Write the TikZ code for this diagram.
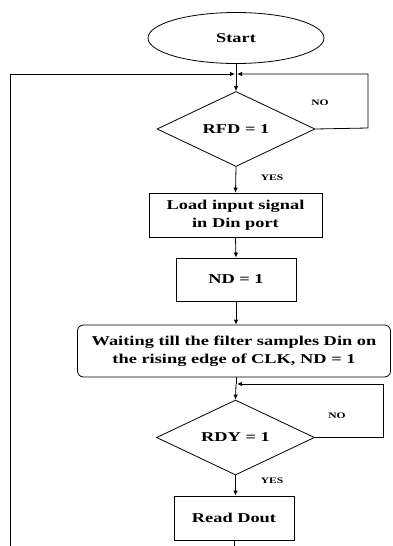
\documentclass[tikz,border=0pt]{standalone}
\usepackage{fontspec}
\setmainfont{Liberation Serif}[FakeStretch=1.36]
\usetikzlibrary{shapes.geometric,arrows.meta}
\begin{document}
\begin{tikzpicture}[x=1pt,y=-1pt,
  every node/.style={font=\bfseries\fontsize{13.5}{18}\selectfont},
  arr/.style={-{Latex[length=5pt,width=4.5pt]}},
  ln/.style={line width=0.8pt},
  boxstyle/.style={draw,ln,rectangle,inner sep=0pt,align=center},
  decision/.style={draw,ln,diamond,aspect=2.1,inner sep=0pt,minimum width=158pt,minimum height=75pt},
  lbl/.style={font=\bfseries\fontsize{8.5}{10}\selectfont}]
\useasboundingbox (0,0) rectangle (393,546);
\node[draw,ln,ellipse,minimum width=176pt,minimum height=51pt] (start) at (236,38) {Start};
\node[decision] (rfd) at (236,129) {RFD = 1};
\node[boxstyle,minimum width=173pt,minimum height=44pt] (load) at (235.5,215) {Load input signal\\in Din port};
\node[boxstyle,minimum width=120pt,minimum height=43pt] (nd) at (236,279.5) {ND = 1};
\node[boxstyle,rounded corners=6pt,minimum width=313pt,minimum height=52pt] (wait) at (234,351) {Waiting till the filter samples Din on\\the rising edge of CLK, ND = 1};
\node[decision] (rdy) at (235.5,437.5) {RDY = 1};
\node[boxstyle,minimum width=120pt,minimum height=44pt] (dout) at (234,518) {Read Dout};
\coordinate (j1) at (236,74);
\coordinate (j2) at (236,384);
\coordinate (r1) at (368,74);
\coordinate (r1b) at (368,128);
\coordinate (r2) at (383,384);
\coordinate (l1) at (10,74);
\coordinate (lb) at (10,546);
\coordinate (db) at (234,546);
\draw[ln] (start.south) -- (j1);
\draw[ln,arr] (j1) -- (rfd.north);
\draw[ln,arr] (lb) -- (l1) -- ([xshift=-1pt]j1);
\draw[ln,arr] (rfd.east) -- (r1b) -- (r1) -- ([xshift=1pt]j1);
\draw[ln,arr] (rfd.south) -- (load.north);
\draw[ln,arr] (load.south) -- (nd.north);
\draw[ln,arr] (nd.south) -- (nd.south |- wait.north);
\draw[ln] (wait.south -| j2) -- (j2);
\draw[ln,arr] (j2) -- (rdy.north);
\draw[ln,arr] (rdy.east) -- (rdy.east -| r2) -- (r2) -- ([xshift=1pt]j2);
\draw[ln,arr] (rdy.south) -- (rdy.south |- dout.north);
\draw[ln] (dout.south) -- (db);
\node[lbl] (no1) at (320,103) {NO};
\node[lbl] (yes1) at (272,178) {YES};
\node[lbl] (no2) at (337,416) {NO};
\node[lbl] (yes2) at (272,481) {YES};
\end{tikzpicture}
\end{document}
